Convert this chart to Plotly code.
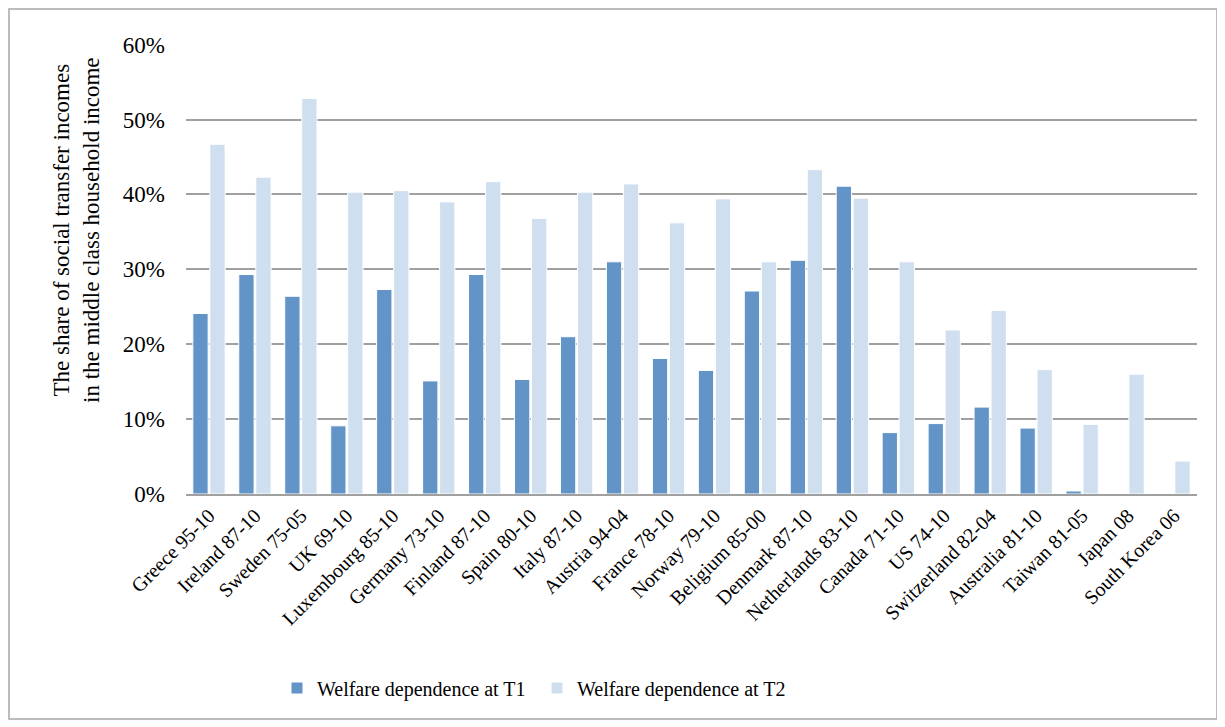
import plotly.graph_objects as go

COUNTRIES = [
    "Greece 95-10", "Ireland 87-10", "Sweden 75-05", "UK 69-10", "Luxembourg 85-10",
    "Germany 73-10", "Finland 87-10", "Spain 80-10", "Italy 87-10", "Austria 94-04",
    "France 78-10", "Norway 79-10", "Beligium 85-00", "Denmark 87-10", "Netherlands 83-10",
    "Canada 71-10", "US 74-10", "Switzerland 82-04", "Australia 81-10", "Taiwan 81-05",
    "Japan 08", "South Korea 06",
]
T1 = [0.241, 0.293, 0.264, 0.091, 0.273, 0.151, 0.293, 0.153, 0.210, 0.310,
      0.181, 0.165, 0.271, 0.312, 0.411, 0.082, 0.094, 0.116, 0.088, 0.004,
      0.0, 0.0]
T2 = [0.467, 0.423, 0.528, 0.403, 0.405, 0.390, 0.417, 0.368, 0.403, 0.414,
      0.362, 0.394, 0.310, 0.433, 0.395, 0.310, 0.219, 0.245, 0.166, 0.093,
      0.160, 0.044]
Y_TICKS = [0, 0.1, 0.2, 0.3, 0.4, 0.5, 0.6]

FONT = "Liberation Serif, Times New Roman, serif"
OFF = 8  # page body margin, figure starts 8px in
W, H = 1225 - OFF, 727 - OFF
L, R, T, B = 186 - OFF, 1197 - OFF, 44 - OFF, 494 - OFF
pw, ph = R - L, B - T


def px(x):
    return (x - OFF - L) / pw


def py(y):
    return (B - (y - OFF)) / ph


fig = go.Figure()
fig.add_trace(go.Bar(x=COUNTRIES, y=T1, name="Welfare dependence at T1",
                     marker=dict(color="#6394C8", line=dict(color="white", width=1))))
fig.add_trace(go.Bar(x=COUNTRIES, y=T2, name="Welfare dependence at T2",
                     marker=dict(color="#CFDFF0", line=dict(color="white", width=1))))

fig.update_yaxes(
    range=[0, 0.6008], tickvals=Y_TICKS, tickformat=".0%",
    showgrid=True, gridcolor="#A0A0A0", gridwidth=2, zeroline=False,
    ticks="", tickfont=dict(size=23, color="black", family=FONT),
    ticklabelstandoff=20,
)
fig.update_xaxes(
    tickangle=-45, tickfont=dict(size=20, color="black", family=FONT),
    showline=True, linecolor="#A0A0A0", linewidth=2, ticks="",
)

# y-axis title placed by hand (sits above the plot's centre in the reference)
fig.add_annotation(
    text="The share of social transfer incomes<br>in the middle class household income",
    xref="paper", yref="paper", x=px(76), y=py(230), xanchor="center", yanchor="middle",
    textangle=-90, showarrow=False,
    font=dict(size=23, color="black", family=FONT),
)

# outer chart border
fig.add_shape(type="rect", xref="paper", yref="paper",
              x0=px(9), x1=px(1217), y0=py(719), y1=py(9),
              line=dict(color="#A6A6A6", width=1.5))

fig.update_layout(
    width=W, height=H, barmode="group", bargap=0.26, bargroupgap=0.1,
    plot_bgcolor="white", paper_bgcolor="white",
    margin=dict(l=L, r=W - R, t=T, b=H - B, autoexpand=False),
    font=dict(family=FONT, color="black"),
    showlegend=True,
    legend=dict(orientation="h", x=px(277), xanchor="left",
                y=py(688), yanchor="middle",
                font=dict(size=20, family=FONT), itemwidth=30,
                entrywidthmode="pixels", entrywidth=215),
)

fig.write_html("out.html")
